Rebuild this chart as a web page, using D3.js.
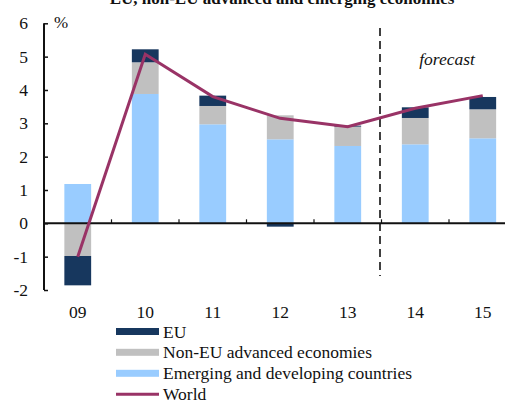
<!DOCTYPE html>
<html><head><meta charset="utf-8">
<script src="https://cdn.jsdelivr.net/npm/d3@7"></script>
</head><body style="margin:0;background:#fff"><svg id="c" width="505" height="400" style="display:block" font-family="Liberation Serif"></svg>
<script>
const categories = ["09","10","11","12","13","14","15"];
const emerging = [1.18, 3.88, 2.97, 2.52, 2.32, 2.37, 2.55];
const nonEU    = [-0.98, 0.95, 0.55, 0.72, 0.58, 0.79, 0.87];
const eu       = [-0.88, 0.39, 0.31, -0.10, 0.03, 0.32, 0.37];
const world    = [-1.0, 5.07, 3.80, 3.15, 2.90, 3.45, 3.83];
const yTicks = [-2,-1,0,1,2,3,4,5,6];
const seriesNames = ["EU","Non-EU advanced economies","Emerging and developing countries","World"];
const colors = {eu:"#17375e", nonEU:"#c0c0c0", emerging:"#99ccff", world:"#993366"};
const FONT = "Liberation Serif";

const svg = d3.select("#c");
function txt(sel){ return sel.append("text").attr("font-family",FONT).attr("fill","#111"); }
const xb = d3.scaleBand().domain(categories).range([44, 516.5]);
const y = d3.scaleLinear().domain([-2, 6]).range([290, 23.3]);

const table = categories.map((c,i)=>({cat:c, emerging:emerging[i], nonEU:nonEU[i], eu:eu[i]}));
const stack = d3.stack().keys(["emerging","nonEU","eu"]).offset(d3.stackOffsetDiverging);
const layers = stack(table);

// title
txt(svg).attr("x", 282).attr("y", 4).attr("text-anchor","middle")
  .attr("font-weight","bold").attr("font-size",17).text("EU, non-EU advanced and emerging economies");

// bars
svg.append("g").selectAll("g").data(layers).join("g")
  .attr("fill", d=>colors[d.key])
  .selectAll("rect").data(d=>d).join("rect")
  .attr("x", d=>xb(d.data.cat) + xb.bandwidth()/2 - 13.4)
  .attr("width", 26.8)
  .attr("y", d=>y(Math.max(d[0],d[1])))
  .attr("height", d=>Math.abs(y(d[0])-y(d[1])));

// forecast divider
svg.append("line").attr("x1", xb("14")-1.5).attr("x2", xb("14")-1.5).attr("y1", 28).attr("y2", 276)
  .attr("stroke","#111").attr("stroke-width",1.6).attr("stroke-dasharray","8,5");
txt(svg).attr("x", 447).attr("y", 65).attr("text-anchor","middle")
  .attr("font-style","italic").attr("font-size",17.5).text("forecast");

// y axis ticks
const yAxis = svg.append("g").attr("transform","translate(44,0)")
  .call(d3.axisRight(y).tickValues(yTicks).tickSize(4).tickFormat(""));
yAxis.select(".domain").remove();
yAxis.selectAll("text").remove();
yAxis.selectAll(".tick line").attr("stroke","#111").attr("stroke-width",1.5);
svg.append("line").attr("x1",44).attr("x2",44).attr("y1",y(6)).attr("y2",y(-2)).attr("stroke","#111").attr("stroke-width",2);
const yl = svg.append("g");
yTicks.forEach(d=>{
  txt(yl).attr("x", 28).attr("y", y(d)+6).attr("text-anchor","end").attr("font-size",17.5).text(d);
});
txt(svg).attr("x",54).attr("y",28).attr("font-size",17).text("%");

// x axis at zero
const xAxis = svg.append("g").attr("transform",`translate(0,${y(0)})`)
  .call(d3.axisTop(xb).tickValues(categories.slice(1)).tickSize(4).tickFormat("").offset(0));
xAxis.select(".domain").remove();
xAxis.selectAll("text").remove();
xAxis.selectAll(".tick").attr("transform", d=>`translate(${xb(d)},0)`);
xAxis.selectAll(".tick line").attr("stroke","#111").attr("stroke-width",1.2);
svg.append("line").attr("x1",44).attr("x2",516).attr("y1",y(0)).attr("y2",y(0)).attr("stroke","#111").attr("stroke-width",2);
const xl = svg.append("g");
categories.forEach(d=>{
  txt(xl).attr("x", xb(d)+xb.bandwidth()/2).attr("y", 318).attr("text-anchor","middle").attr("font-size",17.5).text(d);
});

// world line
const line = d3.line().x((d,i)=>xb(categories[i])+xb.bandwidth()/2).y(d=>y(d));
svg.append("path").datum(world).attr("d", line).attr("fill","none")
  .attr("stroke", colors.world).attr("stroke-width",3).attr("stroke-linejoin","miter");

// legend
const legY = [331.5, 352.3, 373.3, 394.3];
const legColors = [colors.eu, colors.nonEU, colors.emerging, colors.world];
const leg = svg.append("g");
seriesNames.forEach((n,i)=>{
  if (i<3) leg.append("rect").attr("x",116).attr("y",legY[i]-3.5).attr("width",43).attr("height",7).attr("fill",legColors[i]);
  else leg.append("line").attr("x1",116).attr("x2",159).attr("y1",legY[i]).attr("y2",legY[i]).attr("stroke",legColors[i]).attr("stroke-width",3);
  txt(leg).attr("x",163).attr("y",legY[i]+6).attr("font-size",17.5).text(n);
});
</script></body></html>
